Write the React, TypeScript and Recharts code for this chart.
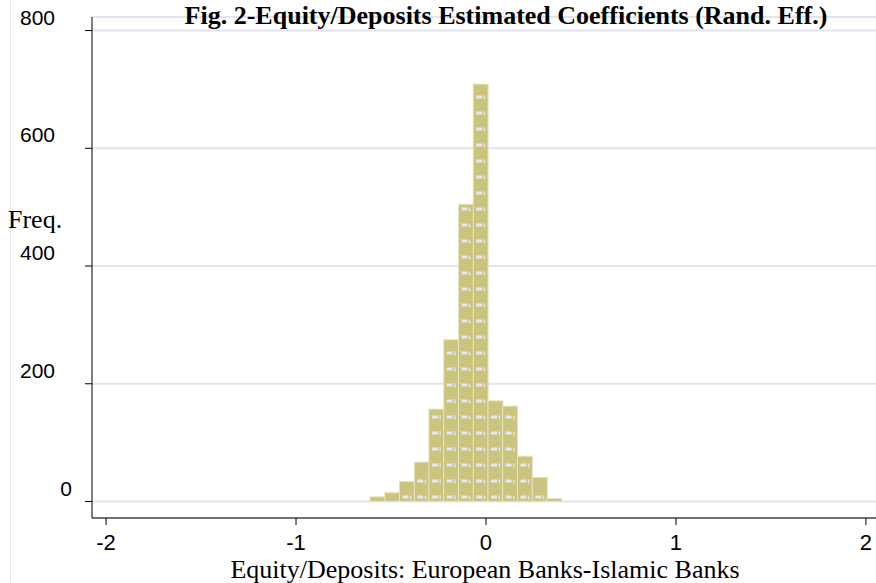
import React from 'react';
import { BarChart, Bar, XAxis, YAxis, CartesianGrid } from 'recharts';

const binCenters = [-0.572, -0.494, -0.417, -0.339, -0.262, -0.184, -0.106, -0.029, 0.049, 0.126, 0.204, 0.282, 0.359];
const frequencies = [8, 15, 34, 67, 157, 275, 505, 709, 171, 162, 77, 41, 5];
const xTicks = [-2, -1, 0, 1, 2];
const yTicks = [0, 200, 400, 600, 800];
const titleText = 'Fig. 2-Equity/Deposits Estimated Coefficients (Rand. Eff.)';
const xLabel = 'Equity/Deposits: European Banks-Islamic Banks';
const yLabel = 'Freq.';

const data = binCenters.map((c, i) => ({ x: c, freq: frequencies[i] }));

const SERIF = "'Liberation Serif', 'Times New Roman', serif";
const SANS = "'Liberation Sans', Arial, sans-serif";

const HatchBar = (props: any) => {
  const { x, y, width, height } = props;
  if (!height || height <= 0) return null;
  const marks: React.ReactNode[] = [];
  let k = 0;
  for (let my = y + height - 6; my > y + 3; my -= 16) {
    marks.push(
      <g key={k++}>
        <rect x={x + 3} y={my} width={6} height={3} fill="#e6e7f0" />
        <rect x={x + 10.5} y={my} width={1.5} height={4} fill="#e2e3ec" />
      </g>
    );
  }
  return (
    <g>
      <rect x={x} y={y} width={width} height={height} fill="#cbc47f" stroke="#e8e4c2" strokeWidth={1} />
      {marks}
    </g>
  );
};

const YTick = (props: any) => {
  const { y, payload } = props;
  const isZero = payload.value === 0;
  return (
    <text x={isZero ? 72 : 55} y={y - 6} textAnchor="end" fontFamily={SANS} fontSize={21} fill="#000">
      {payload.value}
    </text>
  );
};

const XTick = (props: any) => {
  const { x, y, payload } = props;
  return (
    <text x={x} y={y + 23} textAnchor="middle" fontFamily={SANS} fontSize={22} fill="#000">
      {payload.value}
    </text>
  );
};

export default function App() {
  return (
    <div style={{ position: 'absolute', left: 0, top: 0, width: 876, height: 583, background: '#fff', overflow: 'hidden' }}>
      <div style={{ position: 'absolute', left: 10, top: 0, width: 1, height: 583, background: '#e6e8f2' }} />
      <BarChart
        width={876}
        height={583}
        data={data}
        margin={{ top: 17, right: 0, left: 0, bottom: 0 }}
        barCategoryGap={0}
        barGap={0}
      >
        <CartesianGrid horizontal={true} vertical={false} stroke="#e2e5f0" strokeWidth={2} />
        <XAxis
          dataKey="x"
          type="number"
          domain={[-2.074, 2.053]}
          allowDataOverflow
          ticks={xTicks}
          height={65}
          tickSize={7}
          tick={<XTick />}
          axisLine={{ stroke: '#000', strokeWidth: 1 }}
          tickLine={{ stroke: '#000' }}
        />
        <YAxis
          type="number"
          domain={[-28, 823]}
          allowDataOverflow
          ticks={yTicks}
          width={92}
          tickSize={7}
          tick={<YTick />}
          axisLine={{ stroke: '#000', strokeWidth: 1 }}
          tickLine={{ stroke: '#000' }}
        />
        <Bar dataKey="freq" isAnimationActive={false} shape={<HatchBar />} />
      </BarChart>
      <svg width={876} height={583} style={{ position: 'absolute', left: 0, top: 0, pointerEvents: 'none' }}>
        <text x={506} y={23.5} textAnchor="middle" fontFamily={SERIF} fontWeight="bold" fontSize={26} fill="#000">
          {titleText}
        </text>
        <text x={8} y={228} fontFamily={SERIF} fontSize={26} fill="#000">
          {yLabel}
        </text>
        <text x={485} y={578} textAnchor="middle" fontFamily={SERIF} fontSize={26} fill="#000">
          {xLabel}
        </text>
      </svg>
    </div>
  );
}
